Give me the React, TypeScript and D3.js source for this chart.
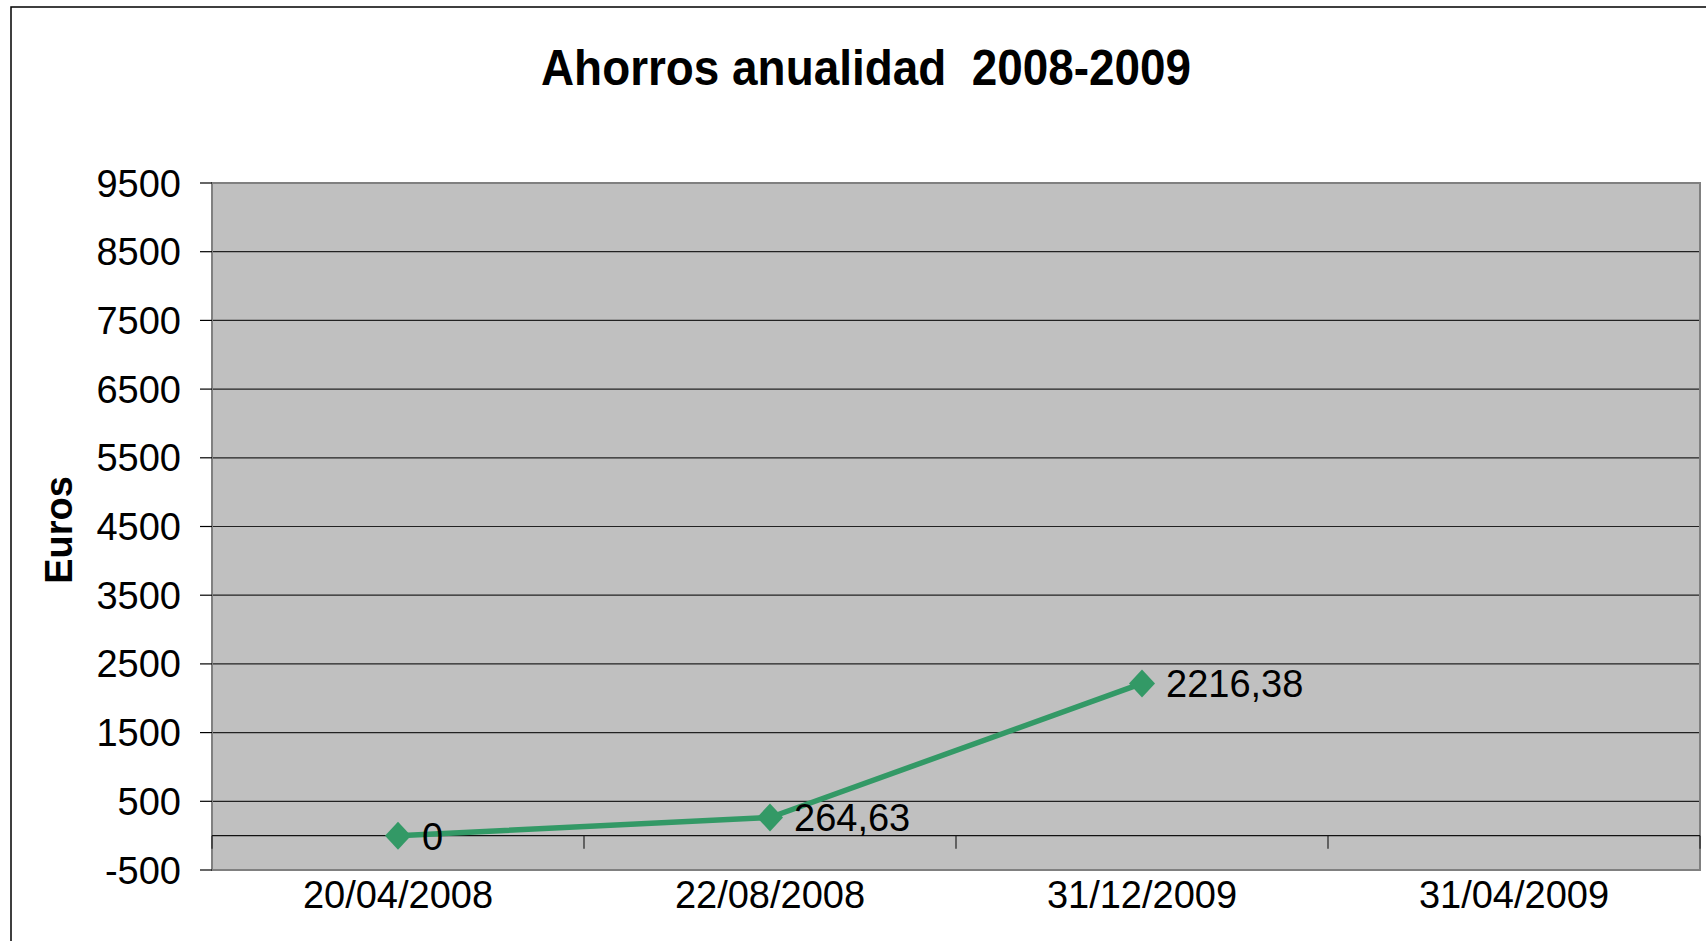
import React from "react";
import * as d3 from "d3";

const categories = ["20/04/2008", "22/08/2008", "31/12/2009", "31/04/2009"];
const savings: (number | null)[] = [0, 264.63, 2216.38, null];
const yTicks = [-500, 500, 1500, 2500, 3500, 4500, 5500, 6500, 7500, 8500, 9500];
const title = "Ahorros anualidad  2008-2009";
const yTitle = "Euros";

const W = 1706;
const H = 941;
const plot = { left: 212, top: 183, right: 1700, bottom: 870 };
const green = "#339966";
const font = "'Liberation Sans', Arial, sans-serif";

function fmt(v: number) {
  if (v === 0) return "0";
  return v.toFixed(2).replace(".", ",");
}

export default function App() {
  const x = d3
    .scaleBand()
    .domain(categories)
    .range([plot.left, plot.right])
    .paddingInner(0)
    .paddingOuter(0);

  const y = d3.scaleLinear().domain([-500, 9500]).range([plot.bottom, plot.top]);

  const pts = categories
    .map((c, i) => ({ c, v: savings[i] }))
    .filter((d) => d.v !== null) as { c: string; v: number }[];

  const cx = (c: string) => (x(c) as number) + x.bandwidth() / 2;

  const line = d3
    .line<{ c: string; v: number }>()
    .x((d) => cx(d.c))
    .y((d) => y(d.v));

  const boundaries = categories.map((c) => x(c) as number).concat([plot.right]);

  return (
    <svg
      width={W}
      height={H}
      style={{ position: "absolute", left: 0, top: 0, display: "block", background: "#fff" }}
      fontFamily={font}
    >
      {/* outer chart border */}
      <rect x={11} y={7} width={W + 20} height={H + 20} fill="none" stroke="#000" strokeWidth={1.5} />

      <text
        x={866}
        y={85}
        textAnchor="middle"
        fontWeight="bold"
        fontSize={50}
        textLength={650}
        lengthAdjust="spacingAndGlyphs"
        style={{ whiteSpace: "pre" }}
      >
        {title}
      </text>

      {/* plot area */}
      <rect
        x={plot.left}
        y={plot.top}
        width={plot.right - plot.left}
        height={plot.bottom - plot.top}
        fill="#c0c0c0"
      />

      {/* gridlines */}
      {yTicks.slice(1).map((t) => (
        <line key={t} x1={plot.left} x2={plot.right} y1={y(t)} y2={y(t)} stroke="#222" strokeWidth={1.2} />
      ))}

      <rect
        x={plot.left}
        y={plot.top}
        width={plot.right - plot.left}
        height={plot.bottom - plot.top}
        fill="none"
        stroke="#808080"
        strokeWidth={2}
      />

      {/* category axis at zero */}
      <line x1={plot.left} x2={plot.right} y1={y(0)} y2={y(0)} stroke="#111" strokeWidth={1.2} />
      {boundaries.map((b, i) => (
        <line key={i} x1={b} x2={b} y1={y(0)} y2={y(0) + 13} stroke="#222" strokeWidth={1.2} />
      ))}

      {/* y ticks + labels */}
      {yTicks.map((t) => (
        <g key={t}>
          <line x1={plot.left - 12} x2={plot.left} y1={y(t)} y2={y(t)} stroke="#000" strokeWidth={1.2} />
          <text x={181} y={y(t) + 13.5} textAnchor="end" fontSize={38}>
            {t}
          </text>
        </g>
      ))}

      <text
        transform={`translate(72, 530) rotate(-90)`}
        textAnchor="middle"
        fontWeight="bold"
        fontSize={38}
      >
        {yTitle}
      </text>

      {/* x labels */}
      {categories.map((c) => (
        <text key={c} x={cx(c)} y={908} textAnchor="middle" fontSize={38}>
          {c}
        </text>
      ))}

      {/* series */}
      <path d={line(pts) || ""} fill="none" stroke={green} strokeWidth={5.5} strokeLinejoin="round" />
      {pts.map((d) => (
        <path
          key={d.c}
          d={`M${cx(d.c)},${y(d.v) - 14}L${cx(d.c) + 13},${y(d.v)}L${cx(d.c)},${y(d.v) + 14}L${cx(d.c) - 13},${y(d.v)}Z`}
          fill={green}
        />
      ))}
      {pts.map((d) => (
        <text key={"l" + d.c} x={cx(d.c) + 24} y={y(d.v) + 14} fontSize={38}>
          {fmt(d.v)}
        </text>
      ))}
    </svg>
  );
}
